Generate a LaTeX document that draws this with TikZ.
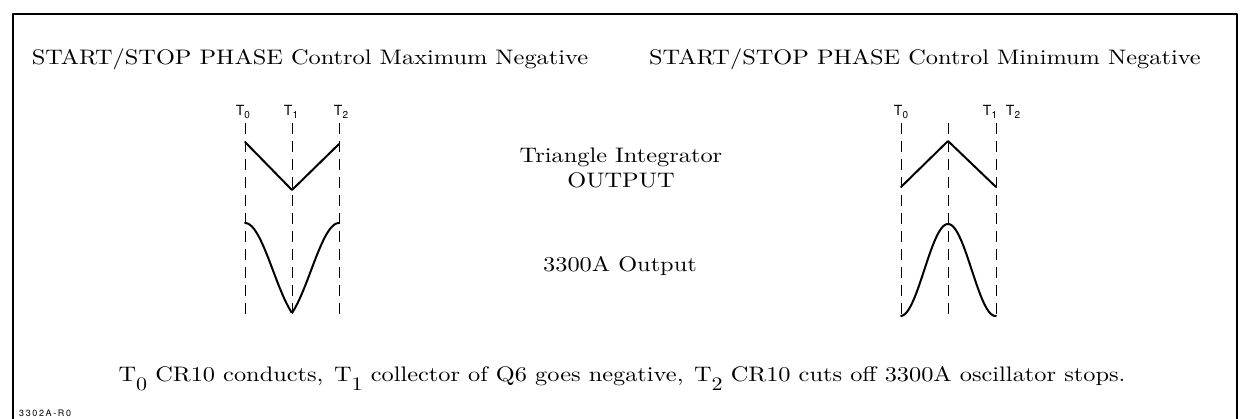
\documentclass[tikz,border=0pt]{standalone}
\usepackage{fontspec}
\setmainfont{lmroman10-regular.otf}[FakeStretch=1.16]
\newfontfamily\lettering{TeX Gyre Heros}
\newfontfamily\plate{TeX Gyre Heros}[LetterSpace=18]
\newcommand\tsub[1]{T\raisebox{-0.35ex}{\fontsize{10}{10}\selectfont#1}}
\newcommand\ssub[1]{T\raisebox{-9pt}{\fontsize{19}{19}\selectfont#1}}
\begin{document}
\begin{tikzpicture}[x=1pt,y=-1pt,line join=round,line cap=round,
	txt/.style={font=\fontsize{21}{25}\selectfont,inner sep=0pt,anchor=base},
	tlab/.style={font=\fontsize{14}{15}\lettering,inner sep=0pt},
	guide/.style={line width=0.9pt,dash pattern=on 11pt off 7pt,line cap=butt},
	wave/.style={line width=2pt}]
\useasboundingbox (0,0) rectangle (1240,419);
\draw[line width=2pt] (13,419)--(13,14)--(1237,14)--(1237,419);
\node[txt] (maxneg) at (310,65) {START/STOP PHASE Control Maximum Negative};
\node[txt] (minneg) at (925,65) {START/STOP PHASE Control Minimum Negative};
\foreach \x in {245,292,339,901,948,996}
	\draw[guide] (\x,123)--(\x,318);
\node[tlab] (la) at (243,112) {\tsub{0}};
\node[tlab] (lb) at (291,112) {\tsub{1}};
\node[tlab] (lc) at (341,112) {\tsub{2}};
\node[tlab] (ra) at (901,112) {\tsub{0}};
\node[tlab] (rb) at (990,112) {\tsub{1}};
\node[tlab] (rc) at (1013,112) {\tsub{2}};
\draw[wave] (245,142)--(292,190)--(339,144);
\draw[wave] plot[domain=245:339,samples=90] (\x,{313-90*(0.5*abs(cos(180/94*(\x-245)))+0.5*cos(180/94*(\x-245))^2)});
\draw[wave] (901,187)--(948,141)--(996,187);
\draw[wave] plot[domain=901:996,samples=90] (\x,{316-92*cos(180/95*(\x-948))^2});
\node[txt] (tri) at (621,163) {Triangle Integrator};
\node[txt] (triout) at (621,188) {OUTPUT};
\node[txt] (osc) at (620,272) {3300A Output};
\node[txt] (note) at (622,382) {\ssub{0} CR10 conducts,\enspace\ssub{1} collector of Q6 goes negative,\enspace\ssub{2} CR10 cuts off 3300A oscillator stops.};
\node[font=\fontsize{9}{9}\plate,inner sep=0pt,anchor=base west] (code) at (19,417) {3302A-R0};
\end{tikzpicture}
\end{document}
